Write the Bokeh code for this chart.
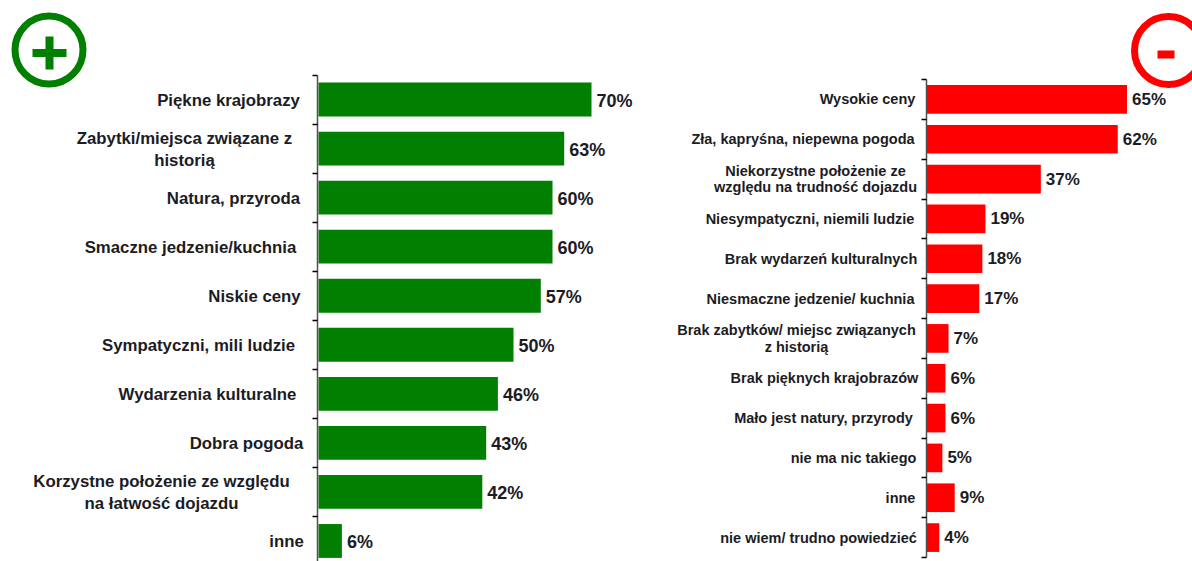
from bokeh.plotting import figure
from bokeh.models import Range1d, LinearAxis, FixedTicker, ColumnDataSource
from bokeh.core.properties import value
from bokeh.embed import file_html
from bokeh.resources import INLINE

# ---------- data ----------
pos_labels = ["Piękne krajobrazy", "Zabytki/miejsca związane z\nhistorią", "Natura, przyroda",
              "Smaczne jedzenie/kuchnia", "Niskie ceny", "Sympatyczni, mili ludzie",
              "Wydarzenia kulturalne", "Dobra pogoda",
              "Korzystne położenie ze względu\nna łatwość dojazdu", "inne"]
pos_values = [70, 63, 60, 60, 57, 50, 46, 43, 42, 6]
neg_labels = ["Wysokie ceny", "Zła, kapryśna, niepewna pogoda",
              "Niekorzystne położenie ze\nwzględu na trudność dojazdu",
              "Niesympatyczni, niemili ludzie", "Brak wydarzeń kulturalnych",
              "Niesmaczne jedzenie/ kuchnia", "Brak zabytków/ miejsc związanych\nz historią",
              "Brak pięknych krajobrazów", "Mało jest natury, przyrody", "nie ma nic takiego",
              "inne", "nie wiem/ trudno powiedzieć"]
neg_values = [65, 62, 37, 19, 18, 17, 7, 6, 6, 5, 9, 4]
pos_ticks = list(range(len(pos_values) + 1))
neg_ticks = list(range(len(neg_values) + 1))

# ---------- layout (reference pixels) ----------
W, H = 1192, 561
OFF = 0
pos_centres = [228, 184, 233, 190, 254, 198, 207, 246, 161, 286]
neg_centres = [867, 802.5, 815, 809.5, 820.5, 810, 796, 824, 823, 853, 900, 818]
GREEN, RED = "#007f00", "#ff0000"
INK = "#1c1c24"

p = figure(width=W, height=H, output_backend="svg", toolbar_location=None,
           x_range=Range1d(OFF, OFF + W), y_range=Range1d(OFF + H, OFF),
           min_border=0, outline_line_color=None, background_fill_color="white")
p.xaxis.visible = False
p.yaxis.visible = False
p.xgrid.visible = False
p.ygrid.visible = False


def px_range(start_px, end_px, start_val, end_val):
    """Range such that start_val/end_val land on the given reference pixels."""
    k = (end_val - start_val) / (end_px - start_px)
    return Range1d(start_val + k * (OFF - start_px), start_val + k * (OFF + W - start_px))


def py_range(top_px, bot_px, n):
    k = n / (bot_px - top_px)
    return Range1d(k * (OFF + H - top_px), k * (OFF - top_px))


p.extra_x_ranges = {"lx": px_range(318, 591, 0, 70), "rx": px_range(926.5, 1126.5, 0, 65)}
p.extra_y_ranges = {"ly": py_range(74.5, 565, 10), "ry": py_range(79, 557, 12)}


def panel(labels, values, centres, ticks, colour, xname, yname, axis_px, bar_h, lab_size, lh,
          pct_size, pct_gap, dy):
    n = len(values)
    y = [i + 0.5 for i in range(n)]
    src = ColumnDataSource(dict(y=y, v=values, pct=[f"{v}%" for v in values]))
    p.hbar(y="y", left=0, right="v", height=bar_h, source=src, fill_color=colour,
           line_color=None, x_range_name=xname, y_range_name=yname)
    p.text(x="v", y="y", text="pct", source=src, x_offset=pct_gap, y_offset=dy, text_baseline="middle",
           text_align="left", text_font=value("Liberation Sans"), text_font_style="bold",
           text_font_size=pct_size, text_color=INK, x_range_name=xname, y_range_name=yname)
    lab = ColumnDataSource(dict(x=centres, y=y, t=labels))
    p.text(x="x", y="y", text="t", source=lab, y_offset=dy, text_align="center", text_baseline="middle",
           text_font=value("Liberation Sans"), text_font_style="bold", text_line_height=lh,
           text_font_size=lab_size, text_color=INK, y_range_name=yname)
    ax = LinearAxis(y_range_name=yname, fixed_location=axis_px,
                    ticker=FixedTicker(ticks=ticks), bounds=(ticks[0], ticks[-1]),
                    major_label_overrides={t: "" for t in ticks}, minor_tick_line_color=None,
                    axis_line_color="#505050", axis_line_width=1.5,
                    major_tick_line_color="#000000", major_tick_line_width=1.5,
                    major_tick_out=5, major_tick_in=0)
    p.add_layout(ax, "left")


panel(pos_labels, pos_values, pos_centres, pos_ticks, GREEN, "lx", "ly", 317, 0.69, "16.8px", 1.155, "18px", 5, 1)
panel(neg_labels, neg_values, neg_centres, neg_ticks, RED, "rx", "ry", 926, 0.72, "14.5px", 1.05, "17px", 5, 0)

# ---------- plus / minus badges ----------
p.scatter(x=[48.5], y=[49.5], marker="circle", size=68, fill_color=None, line_color=GREEN, line_width=7)
p.rect(x=[49, 49], y=[52.5, 52.5], width=[34, 8], height=[8, 33], width_units="screen",
       height_units="screen", fill_color=GREEN, line_color=None)
p.scatter(x=[1168], y=[50], marker="circle", size=68, fill_color=None, line_color=RED, line_width=7)
p.rect(x=[1165.5], y=[54], width=[17], height=[8], width_units="screen", height_units="screen",
       fill_color=RED, line_color=None)

open("out.html", "w").write(file_html(p, INLINE))
